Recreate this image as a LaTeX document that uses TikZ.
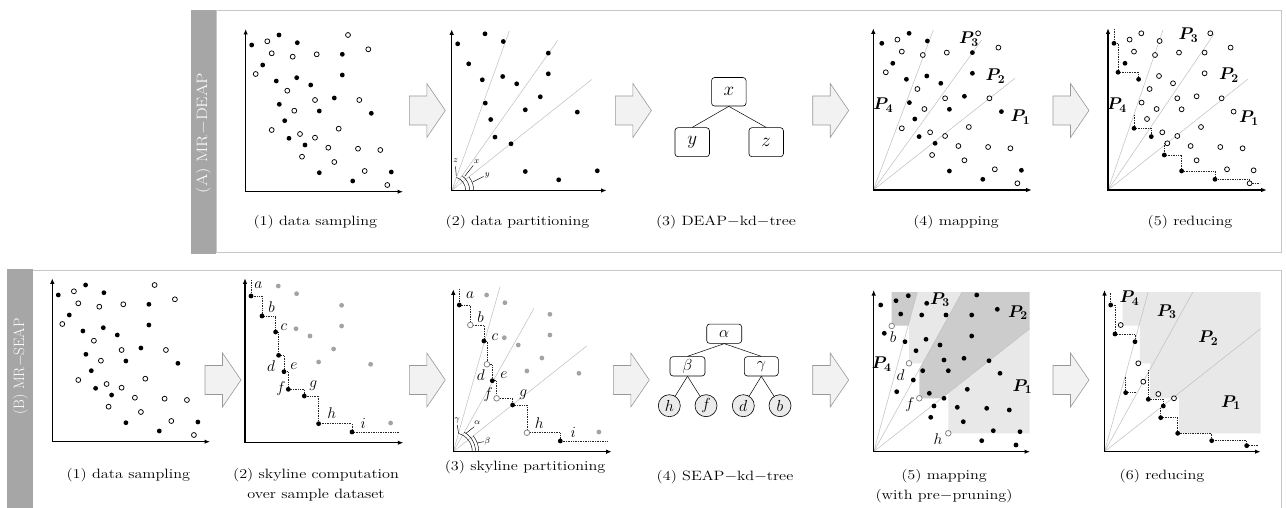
\RequirePackage{fix-cm}
\documentclass[tikz,border=0pt]{standalone}
\usepackage{fontspec}
\usepackage{bm}
\usepackage{graphicx}
\usetikzlibrary{arrows.meta}

\newcommand\ptsF[1]{\foreach \p/\q in #1 {\fill[black] (\p,\q) circle (2.4);}}
\newcommand\ptsO[1]{\foreach \p/\q in #1 {\filldraw[fill=white,draw=black,line width=0.75pt] (\p,\q) circle (2.45);}}
\newcommand\ptsG[1]{\foreach \p/\q in #1 {\fill[black!36] (\p,\q) circle (2.4);}}
\newcommand\ptsP[1]{\foreach \p/\q in #1 {\filldraw[fill=white,draw=black!50,line width=0.75pt] (\p,\q) circle (2.8);}}
\newcommand\barrow[2]{\filldraw[blockarrow] (#1,#2-14.5) -- (#1+17.5,#2-14.5) -- (#1+17.5,#2-27) -- (#1+36,#2) -- (#1+17.5,#2+27) -- (#1+17.5,#2+14.5) -- (#1,#2+14.5) -- cycle;}
\newcommand\sx[1]{\scalebox{1.2}[1]{#1}}

% data set (relative to plot origin, y up)
\def\Sky{6/146.7,17/126.7,30.6/110.7,33.6/87.4,39/71,43.3/53.4,59.3/46.7,73.6/19,107/10.7}
\def\SkyOdd{6/146.7,30.6/110.7,39/71,59.3/46.7,107/10.7}
\def\SkyEven{17/126.7,33.6/87.4,43.3/53.4,73.6/19}
\def\NonSky{33.3/156.7,51.6/149,96.6/137.4,51/114,65/106.7,96.6/116.7,88.6/93.7,73.6/80.7,125.6/78.4,145.6/19.7}
\def\Oa{21.6/150.4,102.3/156.7,122.6/142.4,26/138.4,47/135,71/137.4,41.6/101,69.3/91.7,113.6/91.7,48.6/81,93/63,54.3/57.7,69.3/54,82.6/44,112.3/43,134.6/41.7,88.6/29.7,119/20.7,141.6/6.7}
\def\Ob{10/117.7,26/61.7,56.3/35}
\def\AfiveF{6/146.7,17/126.7,30.6/110.7,43.3/53.4,73.6/19,107/10.7}
\def\AfiveO{33.6/87.4,39/71,59.3/46.7}
% absolute points
\def\BfiveF{880.7/305,896/300.7,908.3/295.7,926.7/303.3,900.7/314,921.7/315,946/315,976.7/295,971.7/315,997.3/309.3,884.3/333.3,905/341.7,926/339.3,940/345,971.7/336,916/350.7,944/360,964/358.3,989/360.7,922.7/370.7,948.3/370.7,1000/373.3,913.3/380,896.7/391.7,929.3/393.3,967.3/389.3,944/398.3,934/406,930.7/417.3,957.3/407.3,963.3/421.7,986.7/408.3,1009.3/410,993.3/430.7,1020/431.7,981.7/440.7,1016/445}
\def\BfiveP{891.7/326,909/363.3,919.3/398.3,948.3/433.3}
\def\BsixF{1110.7/305,1115/334,1135/341.7,1125.7/392.7,1148.3/399.3,1163.3/406,1160.7/417.7,1177.7/433.3,1211.7/440.7,1246.7/445.7}
\def\BsixO{1120.7/325,1138.3/363.3,1143.3/381.7,1158.3/394,1174/398.3}

\tikzset{
  axisline/.style={line width=1.2pt,{Latex[length=5.5pt,width=4.5pt]}-{Latex[length=5.5pt,width=4.5pt]}},
  partline/.style={draw=black!25,line width=0.5pt},
  stairline/.style={densely dotted,line width=0.7pt,black!85},
  thinline/.style={line width=0.45pt},
  capt/.style={font=\fontsize{13.5}{20}\selectfont,align=center,inner sep=0},
  plab/.style={font=\fontsize{17}{17}\selectfont,inner sep=0},
  ptlab/.style={font=\fontsize{15.5}{15.5}\selectfont,inner sep=0},
  arclab/.style={font=\fontsize{8.5}{8.5}\selectfont,inner sep=0},
  treebox/.style={draw,rounded corners=3pt,line width=0.6pt,inner sep=0,font=\fontsize{19}{19}\selectfont},
  treeboxs/.style={draw,rounded corners=3pt,line width=0.6pt,inner sep=0,font=\fontsize{16}{16}\selectfont},
  leaf/.style={circle,draw,fill=black!8,line width=0.6pt,minimum size=22pt,inner sep=0,font=\fontsize{16}{16}\selectfont},
  treeedge/.style={line width=0.5pt},
  blockarrow/.style={fill=black!5,draw=black!40,line width=0.6pt},
  barfill/.style={fill=black!35},
  framel/.style={draw=black!22,line width=1.2pt},
  bartext/.style={rotate=90,text=white,inner sep=0,font=\fontsize{15}{15}\selectfont},
  darkshade/.style={fill=black!20},
  lightshade/.style={fill=black!9}
}

\begin{document}
\begin{tikzpicture}[x=1pt,y=-1pt]
\useasboundingbox (0,0) rectangle (1286,508);
\fill[white] (0,0) rectangle (1286,508);

% ---------- frames and side bars ----------
\draw[framel] (216,10.5) rectangle (1281.7,252.3);
\fill[barfill] (190.7,10) rectangle (216,254.3);
\node[bartext] (barA) at (203.3,133) {\scalebox{1.2}[1]{(A) MR$-$DEAP}};
\draw[framel] (33.3,270.7) -- (1281.7,270.7) -- (1281.7,508);
\fill[barfill] (7.3,269.3) rectangle (33.3,508);
\node[bartext] (barB) at (20.3,366.5) {(B) MR$-$SEAP};

% ---------- block arrows ----------
\barrow{409.3}{110.5}
\barrow{615.4}{110.5}
\barrow{812.7}{110.5}
\barrow{1053}{110.5}
\barrow{205}{380}
\barrow{409.3}{380}
\barrow{613.3}{380}
\barrow{812.7}{380}
\barrow{1053}{380}

% ================= PANEL A =================
% A1 data sampling
\begin{scope}[shift={(245.7,191.7)},yscale=-1]
  \ptsF{\Sky}\ptsF{\NonSky}\ptsO{\Oa}\ptsO{\Ob}
\end{scope}
\draw[axisline] (245.7,29) -- (245.7,191.7) -- (403,191.7);
\node[capt] (cA1) at (315.3,222) {\sx{(1) data sampling}};

% A2 data partitioning
\begin{scope}[shift={(451.7,190.5)},yscale=-1]
  \draw[partline] (0,0) -- (57.6,159.6) (0,0) -- (106,150) (0,0) -- (140,111);
  \draw[thinline] (14,0) arc[start angle=0,end angle=70,radius=14];
  \draw[thinline] (18,0) arc[start angle=0,end angle=54.6,radius=18];
  \draw[thinline] (22,0) arc[start angle=0,end angle=38.4,radius=22];
  \draw[thinline] (3.8,24) -- (4.6,14.5);
  \draw[thinline] (21.5,25) -- (13,14.2);
  \draw[thinline] (32,14) -- (21,8.5);
  \ptsF{\Sky}\ptsF{\NonSky}
\end{scope}
\node[arclab] (lz) at (455.7,161) {$z$};
\node[arclab] (lx) at (476.7,161.5) {$x$};
\node[arclab] (ly) at (487.3,175.5) {$y$};
\draw[axisline] (451.7,29.3) -- (451.7,190.5) -- (606.6,190.5);
\node[capt] (cA2) at (517.5,222) {\sx{(2) data partitioning}};

% A3 DEAP-kd-tree
\node[treebox,minimum width=34.5pt,minimum height=28.5pt] (tx) at (728.8,91.8) {$x$};
\node[treebox,minimum width=34.5pt,minimum height=29pt] (ty) at (692.2,142.2) {$y$};
\node[treebox,minimum width=34.5pt,minimum height=29pt] (tz) at (766.2,142.2) {$z$};
\draw[treeedge] (tx.south) -- (ty.north);
\draw[treeedge] (tx.south) -- (tz.north);
\node[capt] (cA3) at (726,222.5) {\sx{(3) DEAP$-$kd$-$tree}};

% A4 mapping
\begin{scope}[shift={(873.3,190)},yscale=-1]
  \draw[partline] (0,0) -- (60,160) (0,0) -- (108.4,150) (0,0) -- (141.7,111.7);
\end{scope}
\begin{scope}[shift={(875.8,190)},yscale=-1]
  \ptsF{\Sky}\ptsF{\NonSky}\ptsO{\Oa}\ptsO{\Ob}
\end{scope}
\draw[axisline] (873.3,28.3) -- (873.3,190) -- (1031.7,190);
\node[plab] (a4p4) at (883.3,105) {$\bm{P_4}$};
\node[plab] (a4p3) at (969,39) {$\bm{P_3}$};
\node[plab] (a4p2) at (995.5,76) {$\bm{P_2}$};
\node[plab] (a4p1) at (1020.5,117) {$\bm{P_1}$};
\node[capt] (cA4) at (956,222.5) {\sx{(4) mapping}};

% A5 reducing
\begin{scope}[shift={(1108,190)},yscale=-1]
  \draw[partline] (0,0) -- (55,160) (0,0) -- (106,156) (0,0) -- (140,111);
  \draw[stairline] (6,161) -- (6,146.7) -- (10,146.7) -- (10,117.7) -- (30.6,117.7) -- (30.6,110.7);
  \draw[stairline] (26,75) -- (26,61.7) -- (43.3,61.7) -- (43.3,53.4);
  \draw[stairline] (56.3,47) -- (56.3,35) -- (73.6,35) -- (73.6,19) -- (107,19) -- (107,10.7) -- (141.6,10.7) -- (141.6,6.7) -- (152,6.7);
  \ptsO{\NonSky}\ptsO{\AfiveO}\ptsO{\Oa}
  \ptsF{\AfiveF}\ptsF{\Ob}
\end{scope}
\draw[axisline] (1108,28.3) -- (1108,190) -- (1266.7,190);
\node[plab] (a5p4) at (1117,105) {$\bm{P_4}$};
\node[plab] (a5p3) at (1188.5,35) {$\bm{P_3}$};
\node[plab] (a5p2) at (1229,75) {$\bm{P_2}$};
\node[plab] (a5p1) at (1249,118) {$\bm{P_1}$};
\node[capt] (cA5) at (1190,222.5) {\sx{(5) reducing}};

% ================= PANEL B =================
% B1 data sampling
\begin{scope}[shift={(52.3,441.7)},yscale=-1]
  \ptsF{\Sky}\ptsF{\NonSky}\ptsO{\Oa}\ptsO{\Ob}
\end{scope}
\draw[axisline] (52.3,278.3) -- (52.3,441.7) -- (210,441.7);
\node[capt] (cB1) at (128.3,475) {\sx{(1) data sampling}};

% B2 skyline computation
\begin{scope}[shift={(245,442.7)},yscale=-1]
  \draw[stairline] (6,162.7) -- (6,146.7) -- (17,146.7) -- (17,126.7) -- (30.6,126.7) -- (30.6,110.7) -- (33.6,110.7) -- (33.6,87.4) -- (39,87.4) -- (39,71) -- (43.3,71) -- (43.3,53.4) -- (59.3,53.4) -- (59.3,46.7) -- (73.6,46.7) -- (73.6,19) -- (107,19) -- (107,10.7) -- (154,10.7);
  \ptsG{\NonSky}\ptsF{\Sky}
\end{scope}
\draw[axisline] (245,278.3) -- (245,442.7) -- (403.3,442.7);
\node[ptlab] (b2a) at (258.3,285) {$a$};
\node[ptlab] (b2b) at (271.7,306.7) {$b$};
\node[ptlab] (b2c) at (284,326.7) {$c$};
\node[ptlab] (b2d) at (271,366) {$d$};
\node[ptlab] (b2e) at (294,366) {$e$};
\node[ptlab] (b2f) at (281,388.3) {$f$};
\node[ptlab] (b2g) at (313.3,386) {$g$};
\node[ptlab] (b2h) at (331.7,413.3) {$h$};
\node[ptlab] (b2i) at (363.3,423.3) {$i$};
\node[capt] (cB2) at (316,485) {\sx{(2) skyline computation}\\\sx{over sample dataset}};

% B3 skyline partitioning
\begin{scope}[shift={(453.3,451.7)},yscale=-1]
  \draw[partline] (0,0) -- (46.7,165) (0,0) -- (80.7,143.4) (0,0) -- (133.4,105.7);
  \draw[thinline] (19,0) arc[start angle=0,end angle=74.2,radius=19];
  \draw[thinline] (22.3,0) arc[start angle=0,end angle=60.6,radius=22.3];
  \draw[thinline] (25.5,0) arc[start angle=0,end angle=38.4,radius=25.5];
  \draw[thinline] (4,26.5) -- (5.2,18.5);
  \draw[thinline] (21,25) -- (12.8,18.5);
  \draw[thinline] (30.5,10) -- (24,8.8);
  \draw[stairline] (6,162.4) -- (6,146.7) -- (17,146.7) -- (17,126.7) -- (30.6,126.7) -- (30.6,110.7) -- (33.6,110.7) -- (33.6,87.4) -- (39,87.4) -- (39,71) -- (43.3,71) -- (43.3,53.4) -- (59.3,53.4) -- (59.3,46.7) -- (73.6,46.7) -- (73.6,19) -- (107,19) -- (107,10.7) -- (155,10.7);
  \ptsG{\NonSky}\ptsF{\SkyOdd}\ptsP{\SkyEven}
\end{scope}
\draw[axisline] (453.3,289.3) -- (453.3,451.7) -- (611.7,451.7);
\node[arclab] (lgam) at (457.3,420) {$\gamma$};
\node[arclab] (lalp) at (477.3,423) {$\alpha$};
\node[arclab] (lbet) at (487.3,441) {$\beta$};
\node[ptlab] (b3a) at (470,295) {$a$};
\node[ptlab] (b3b) at (480.7,316.7) {$b$};
\node[ptlab] (b3c) at (495,336.7) {$c$};
\node[ptlab] (b3d) at (480.7,375) {$d$};
\node[ptlab] (b3e) at (504,375) {$e$};
\node[ptlab] (b3f) at (488.3,395) {$f$};
\node[ptlab] (b3g) at (523.3,395) {$g$};
\node[ptlab] (b3h) at (539.3,422.7) {$h$};
\node[ptlab] (b3i) at (573.3,432.7) {$i$};
\node[capt] (cB3) at (525,466.7) {\sx{(3) skyline partitioning}};

% B4 SEAP-kd-tree
\node[treeboxs,minimum width=35pt,minimum height=19.3pt] (ta) at (724.2,333.7) {$\alpha$};
\node[treeboxs,minimum width=35pt,minimum height=19.3pt] (tb) at (687.5,366.3) {$\beta$};
\node[treeboxs,minimum width=34pt,minimum height=19.3pt] (tg) at (761.3,366.3) {$\gamma$};
\node[leaf] (lh) at (669.3,405.7) {$h$};
\node[leaf] (lf) at (706,405.7) {$f$};
\node[leaf] (ld) at (743.3,405.7) {$d$};
\node[leaf] (lb) at (780,405.7) {$b$};
\draw[treeedge] (ta.south) -- (tb.north);
\draw[treeedge] (ta.south) -- (tg.north);
\draw[treeedge] (tb.south) -- (lh);
\draw[treeedge] (tb.south) -- (lf);
\draw[treeedge] (tg.south) -- (ld);
\draw[treeedge] (tg.south) -- (lb);
\node[capt] (cB4) at (725,476.7) {\sx{(4) SEAP$-$kd$-$tree}};

% B5 mapping with pre-pruning
\begin{scope}[shift={(873.7,451.7)},yscale=-1]
  \fill[darkshade] (18,159.5) -- (43.6,159.5) -- (34.5,126) -- (18,126) -- cycle;
  \fill[lightshade] (43.6,159.5) -- (88.3,159.5) -- (48.9,88.4) -- (35.3,88.4) -- (35.3,129) -- cycle;
  \fill[darkshade] (45.6,53.4) -- (45.6,82.4) -- (88.3,159.5) -- (156,159.5) -- (156,122.9) -- (67.8,53.4) -- cycle;
  \fill[lightshade] (74.6,18.4) -- (74.6,58.8) -- (156,122.9) -- (156,18.4) -- cycle;
  \draw[partline] (0,0) -- (43.6,159.5) (0,0) -- (88.3,159.5) (0,0) -- (156,122.9);
\end{scope}
\ptsF{\BfiveF}\ptsP{\BfiveP}
\draw[axisline] (873.7,290) -- (873.7,451.7) -- (1030,451.7);
\node[ptlab] (b5b) at (893,337) {$b$};
\node[ptlab] (b5d) at (900.5,375) {$d$};
\node[ptlab] (b5f) at (910,404.5) {$f$};
\node[ptlab] (b5h) at (938,439) {$h$};
\node[plab] (b5p4) at (881.7,364) {$\bm{P_4}$};
\node[plab] (b5p3) at (940,299.5) {$\bm{P_3}$};
\node[plab] (b5p2) at (1018,312.5) {$\bm{P_2}$};
\node[plab] (b5p1) at (1022.5,386.5) {$\bm{P_1}$};
\node[capt] (cB5) at (944,486.3) {\sx{(5) mapping}\\\sx{(with pre$-$pruning)}};

% B6 reducing
\begin{scope}[shift={(1104.5,451.7)},yscale=-1]
  \fill[lightshade] (18,159.5) -- (18,126) -- (35.3,126) -- (35.3,88.4) -- (45.6,88.4) -- (45.6,53.4) -- (74.6,53.4) -- (74.6,18.4) -- (156,18.4) -- (156,159.5) -- cycle;
  \draw[partline] (0,0) -- (43.6,159.5) (0,0) -- (88.3,159.5) (0,0) -- (156,122.9);
\end{scope}
\draw[stairline] (1110.7,292.5) -- (1110.7,305) -- (1115,305) -- (1115,334) -- (1135,334) -- (1135,341.7);
\draw[stairline] (1125.7,376.7) -- (1125.7,392.7) -- (1136.7,392.7);
\draw[stairline] (1148.3,370) -- (1148.3,399.3) -- (1163.3,399.3) -- (1163.3,406);
\draw[stairline] (1160.7,408) -- (1160.7,417.7) -- (1177.7,417.7) -- (1177.7,433.3) -- (1211.7,433.3) -- (1211.7,440.7) -- (1246.7,440.7) -- (1246.7,445.7) -- (1258.3,445.7);
\ptsO{\BsixO}\ptsF{\BsixF}
\draw[axisline] (1104.5,290) -- (1104.5,451.7) -- (1260.5,451.7);
\node[plab] (b6p4) at (1129.5,298.3) {$\bm{P_4}$};
\node[plab] (b6p3) at (1166.7,311.7) {$\bm{P_3}$};
\node[plab] (b6p2) at (1208.3,338.3) {$\bm{P_2}$};
\node[plab] (b6p1) at (1231,402.5) {$\bm{P_1}$};
\node[capt] (cB6) at (1162,476) {\sx{(6) reducing}};

\end{tikzpicture}
\end{document}
